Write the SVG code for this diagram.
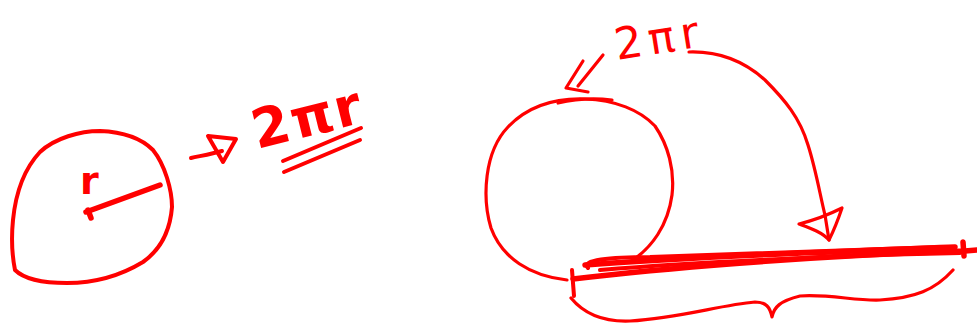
<svg xmlns="http://www.w3.org/2000/svg" width="977" height="331" viewBox="0 0 977 331">
<style>
.s{fill:none;stroke:#ff0000;stroke-linecap:round;stroke-linejoin:round}
.t3{stroke-width:3.2}
.t4{stroke-width:4}
.t5{stroke-width:5.5}
.lbl{fill:#ff0000;font-family:"DejaVu Sans","Liberation Sans",sans-serif}
</style>
<rect width="977" height="331" fill="#ffffff"/>
<g id="left-circle">
<path class="s t4" d="M15,270 C25,280 45,283 67,283 C90,283 115,279 143,262 C160,250 170,232 172,207 C172,190 165,165 153,150 C143,140 125,132 100,131 C80,131 55,138 40,152 C25,168 16,190 13,220 C11,240 12,255 15,270 Z"/>
<path class="s t5" d="M86,212 L160,185"/>
<path class="s t5" d="M88,210 L91,218"/>
<text class="lbl" x="80" y="194" font-size="38" font-weight="bold">r</text>
</g>
<g id="left-label">
<text class="lbl" x="257" y="149" font-size="54" font-weight="bold" letter-spacing="2" transform="rotate(-14 257 149)">2πr</text>
<path class="s t4" d="M283,161 L361,128"/>
<path class="s t4" d="M284,172 L360,140"/>
</g>
<g id="right-circle">
<path class="s t3" d="M567,280 C530,276 502,258 491,228 C482,198 484,152 508,127 C528,106 555,98 585,99 C615,100 640,110 655,126 C668,145 675,170 672,195 C668,225 652,248 630,262"/>
<path class="s t3" d="M558,103 C575,99 595,98 612,100"/>
</g>
<g id="right-label">
<text class="lbl" x="617" y="60" font-size="44" letter-spacing="6" transform="rotate(-9 617 60)">2πr</text>
</g>
<g id="unrolled-line">
<path class="s t5" d="M573,279 C650,270 800,256 965,251 L977,250"/>
<path class="s t5" d="M585,265 C700,256 850,251 955,247"/>
<path class="s t4" d="M588,268 C580,260 610,257 650,257 C760,253 870,249 940,247"/>
<path class="s t4" d="M600,270 C700,262 850,255 960,253"/>
<path class="s t5" d="M963,242 L964,256"/>
<path class="s t4" d="M572,270 L574,296"/>
</g>
<g id="connectors">
<path class="s t4" d="M191,158 C200,156 212,154 222,151"/>
<path class="s t4" d="M208,136 L236,139 L223,162 Z"/>
<path class="s t3" d="M603,55 L578,86"/>
<path class="s t3" d="M583,61 L566,88 L588,92"/>
<path class="s t3" d="M689,52 C720,51 745,62 765,80 C785,100 800,118 808,145 C816,170 820,195 825,215 L829,240"/>
<path class="s t3" d="M799,224 C815,220 830,214 842,208 C838,220 834,230 829,240 C822,232 810,228 799,224 Z"/>
<path class="s t3" d="M571,298 C585,315 605,322 630,321 C680,318 720,305 755,302 C766,302 770,307 772,317 C774,307 780,301 800,296 C830,294 855,301 880,300 C915,298 935,290 953,270"/>
</g>
</svg>
